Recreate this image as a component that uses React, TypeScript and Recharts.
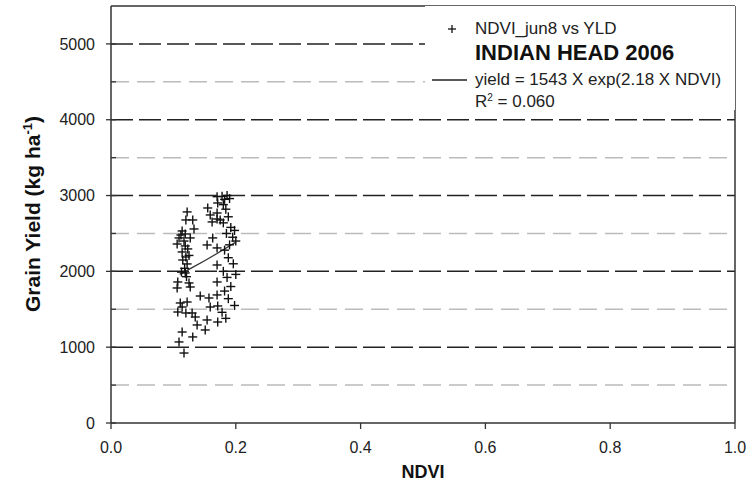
import { ComposedChart, Scatter, Line, XAxis, YAxis, ReferenceLine, Legend } from 'recharts'

// NDVI on June 8 vs grain yield, Indian Head 2006
const ndviValues = [
  0.122, 0.120, 0.131, 0.155, 0.159, 0.162, 0.170, 0.133, 0.114, 0.119,
  0.109, 0.127, 0.106, 0.119, 0.123, 0.114, 0.120, 0.115, 0.122, 0.163,
  0.154, 0.170, 0.170, 0.171, 0.170, 0.175, 0.170, 0.112, 0.117, 0.125,
  0.118, 0.113, 0.121, 0.119, 0.107, 0.125, 0.106, 0.127, 0.170, 0.143,
  0.157, 0.170, 0.111, 0.122, 0.114, 0.107, 0.120, 0.130, 0.135, 0.159,
  0.171, 0.154, 0.138, 0.171, 0.114, 0.151, 0.131, 0.109, 0.117, 0.178,
  0.182, 0.186, 0.190, 0.180, 0.184, 0.188, 0.180, 0.192, 0.198, 0.185,
  0.195, 0.190, 0.200, 0.182, 0.188, 0.196, 0.180, 0.186, 0.200, 0.192,
  0.182, 0.188, 0.198, 0.178, 0.184,
]
const yieldValues = [
  2784, 2678, 2678, 2836, 2744, 2652, 2691, 2559, 2533, 2493,
  2441, 2441, 2361, 2335, 2296, 2256, 2190, 2150, 2098, 2441,
  2348, 2309, 2985, 2902, 2770, 2678, 2084, 2480, 2400, 2210,
  2040, 1990, 1930, 1979, 1860, 1847, 1781, 1794, 1860, 1675,
  1649, 1689, 1583, 1596, 1530, 1464, 1451, 1451, 1398, 1530,
  1544, 1359, 1293, 1332, 1200, 1227, 1135, 1069, 923, 2990,
  2950, 3000, 2960, 2880, 2820, 2720, 2640, 2580, 2540, 2500,
  2450, 2350, 2400, 2280, 2180, 2100, 2000, 1920, 1960, 1800,
  1740, 1640, 1550, 1460, 1380,
]

// yield = 1543 X exp(2.18 X NDVI), evaluated at a few NDVI values
const fitNdvi = [0.11, 0.13, 0.15, 0.17, 0.2]
const fitYield = [1961, 2049, 2140, 2235, 2386]

const xTicks = [0, 0.2, 0.4, 0.6, 0.8, 1.0]
const yTicks = [0, 500, 1000, 1500, 2000, 2500, 3000, 3500, 4000, 4500, 5000]
const majorGrid = [1000, 2000, 3000, 4000, 5000]
const minorGrid = [500, 1500, 2500, 3500, 4500]

const points = ndviValues.map((x, i) => ({ x, y: yieldValues[i] }))
const fitLine = fitNdvi.map((x, i) => ({ x, y: fitYield[i] }))

const FONT = '"Liberation Sans", Arial, sans-serif'
const INK = '#222'

function PlusMark(props: any) {
  const { cx, cy } = props
  if (cx == null || cy == null) return null
  return (
    <g stroke="#111" strokeWidth={1.4}>
      <line x1={cx - 4.5} x2={cx + 4.5} y1={cy} y2={cy} />
      <line x1={cx} x2={cx} y1={cy - 4.5} y2={cy + 4.5} />
    </g>
  )
}

// major ticks cross the axis and carry a label, minor ones sit inside only
function YTick({ x, y, payload }: any) {
  const major = payload.value % 1000 === 0
  return (
    <g>
      <line x1={major ? x - 5 : x} x2={x + 5} y1={y} y2={y} stroke="#333" strokeWidth={1.3} />
      {major && (
        <text x={x - 16} y={y} dy="0.36em" textAnchor="end" fontSize={16} fill={INK} fontFamily={FONT}>
          {payload.value}
        </text>
      )}
    </g>
  )
}

function LegendBox() {
  return (
    <svg width={310} height={104} style={{ display: 'block' }}>
      <g stroke="#111" strokeWidth={1.3}>
        <line x1={23} x2={31} y1={23} y2={23} />
        <line x1={27} x2={27} y1={19} y2={27} />
      </g>
      <text x={50} y={28} fontSize={17} fill={INK} fontFamily={FONT}>NDVI_jun8 vs YLD</text>
      <text x={50} y={54} fontSize={22} fontWeight="bold" fill="#111" fontFamily={FONT}>INDIAN HEAD 2006</text>
      <line x1={7} x2={42} y1={74} y2={74} stroke="#222" strokeWidth={1.3} />
      <text x={50} y={79} fontSize={17} fill={INK} fontFamily={FONT}>yield = 1543 X exp(2.18 X NDVI)</text>
      <text x={50} y={101} fontSize={17} fill={INK} fontFamily={FONT}>
        R<tspan dy={-6} fontSize={10}>2</tspan><tspan dy={6}> = 0.060</tspan>
      </text>
    </svg>
  )
}

export default function App() {
  return (
    <div style={{ position: 'absolute', left: 0, top: 0, width: 751, height: 487, background: '#fff' }}>
      <ComposedChart
        width={751}
        height={487}
        margin={{ top: 6, right: 16, bottom: 0, left: 0 }}
      >
        <XAxis
          type="number"
          dataKey="x"
          domain={[0, 1]}
          ticks={xTicks}
          tickFormatter={(v: number) => v.toFixed(1)}
          height={64}
          tickSize={6}
          tickMargin={13}
          axisLine={{ stroke: '#333', strokeWidth: 1.5 }}
          tickLine={{ stroke: '#333', strokeWidth: 1.3 }}
          tick={{ fill: INK, fontSize: 16, fontFamily: FONT }}
          label={{ value: 'NDVI', position: 'insideBottom', offset: 9, fill: '#111', fontSize: 18, fontWeight: 'bold', fontFamily: FONT }}
        />
        <YAxis
          type="number"
          dataKey="y"
          domain={[0, 5500]}
          ticks={yTicks}
          width={111}
          tickSize={0}
          tickMargin={0}
          tickLine={false}
          axisLine={{ stroke: '#333', strokeWidth: 1.5 }}
          tick={<YTick />}
          interval={0}
        />

        {minorGrid.map((v) => (
          <ReferenceLine key={`minor-${v}`} y={v} stroke="#bbb" strokeWidth={1.5} strokeDasharray="18 8" />
        ))}
        {majorGrid.map((v) => (
          <ReferenceLine key={`major-${v}`} y={v} stroke="#222" strokeWidth={1.5} strokeDasharray="22 6" />
        ))}
        {/* frame top and right */}
        <ReferenceLine y={5500} stroke="#333" strokeWidth={1.5} />
        <ReferenceLine x={1} stroke="#333" strokeWidth={1.5} />

        <Scatter data={points} shape={<PlusMark />} isAnimationActive={false} />
        <Line
          data={fitLine}
          dataKey="y"
          type="linear"
          stroke="#333"
          strokeWidth={1.3}
          dot={false}
          activeDot={false}
          isAnimationActive={false}
        />

        <Legend
          layout="horizontal"
          verticalAlign="middle"
          align="center"
          content={() => <LegendBox />}
          wrapperStyle={{ position: 'absolute', left: 425, top: 6, width: 310, height: 104, background: '#fff' }}
        />
      </ComposedChart>

      <svg width={70} height={487} style={{ position: 'absolute', left: 0, top: 0 }}>
        <text
          transform="translate(40,214) rotate(-90)"
          textAnchor="middle"
          fontSize={21}
          fontWeight="bold"
          fill="#111"
          fontFamily={FONT}
        >
          Grain Yield (kg ha<tspan dy={-8} fontSize={13}>-1</tspan><tspan dy={8}>)</tspan>
        </text>
      </svg>
    </div>
  )
}
